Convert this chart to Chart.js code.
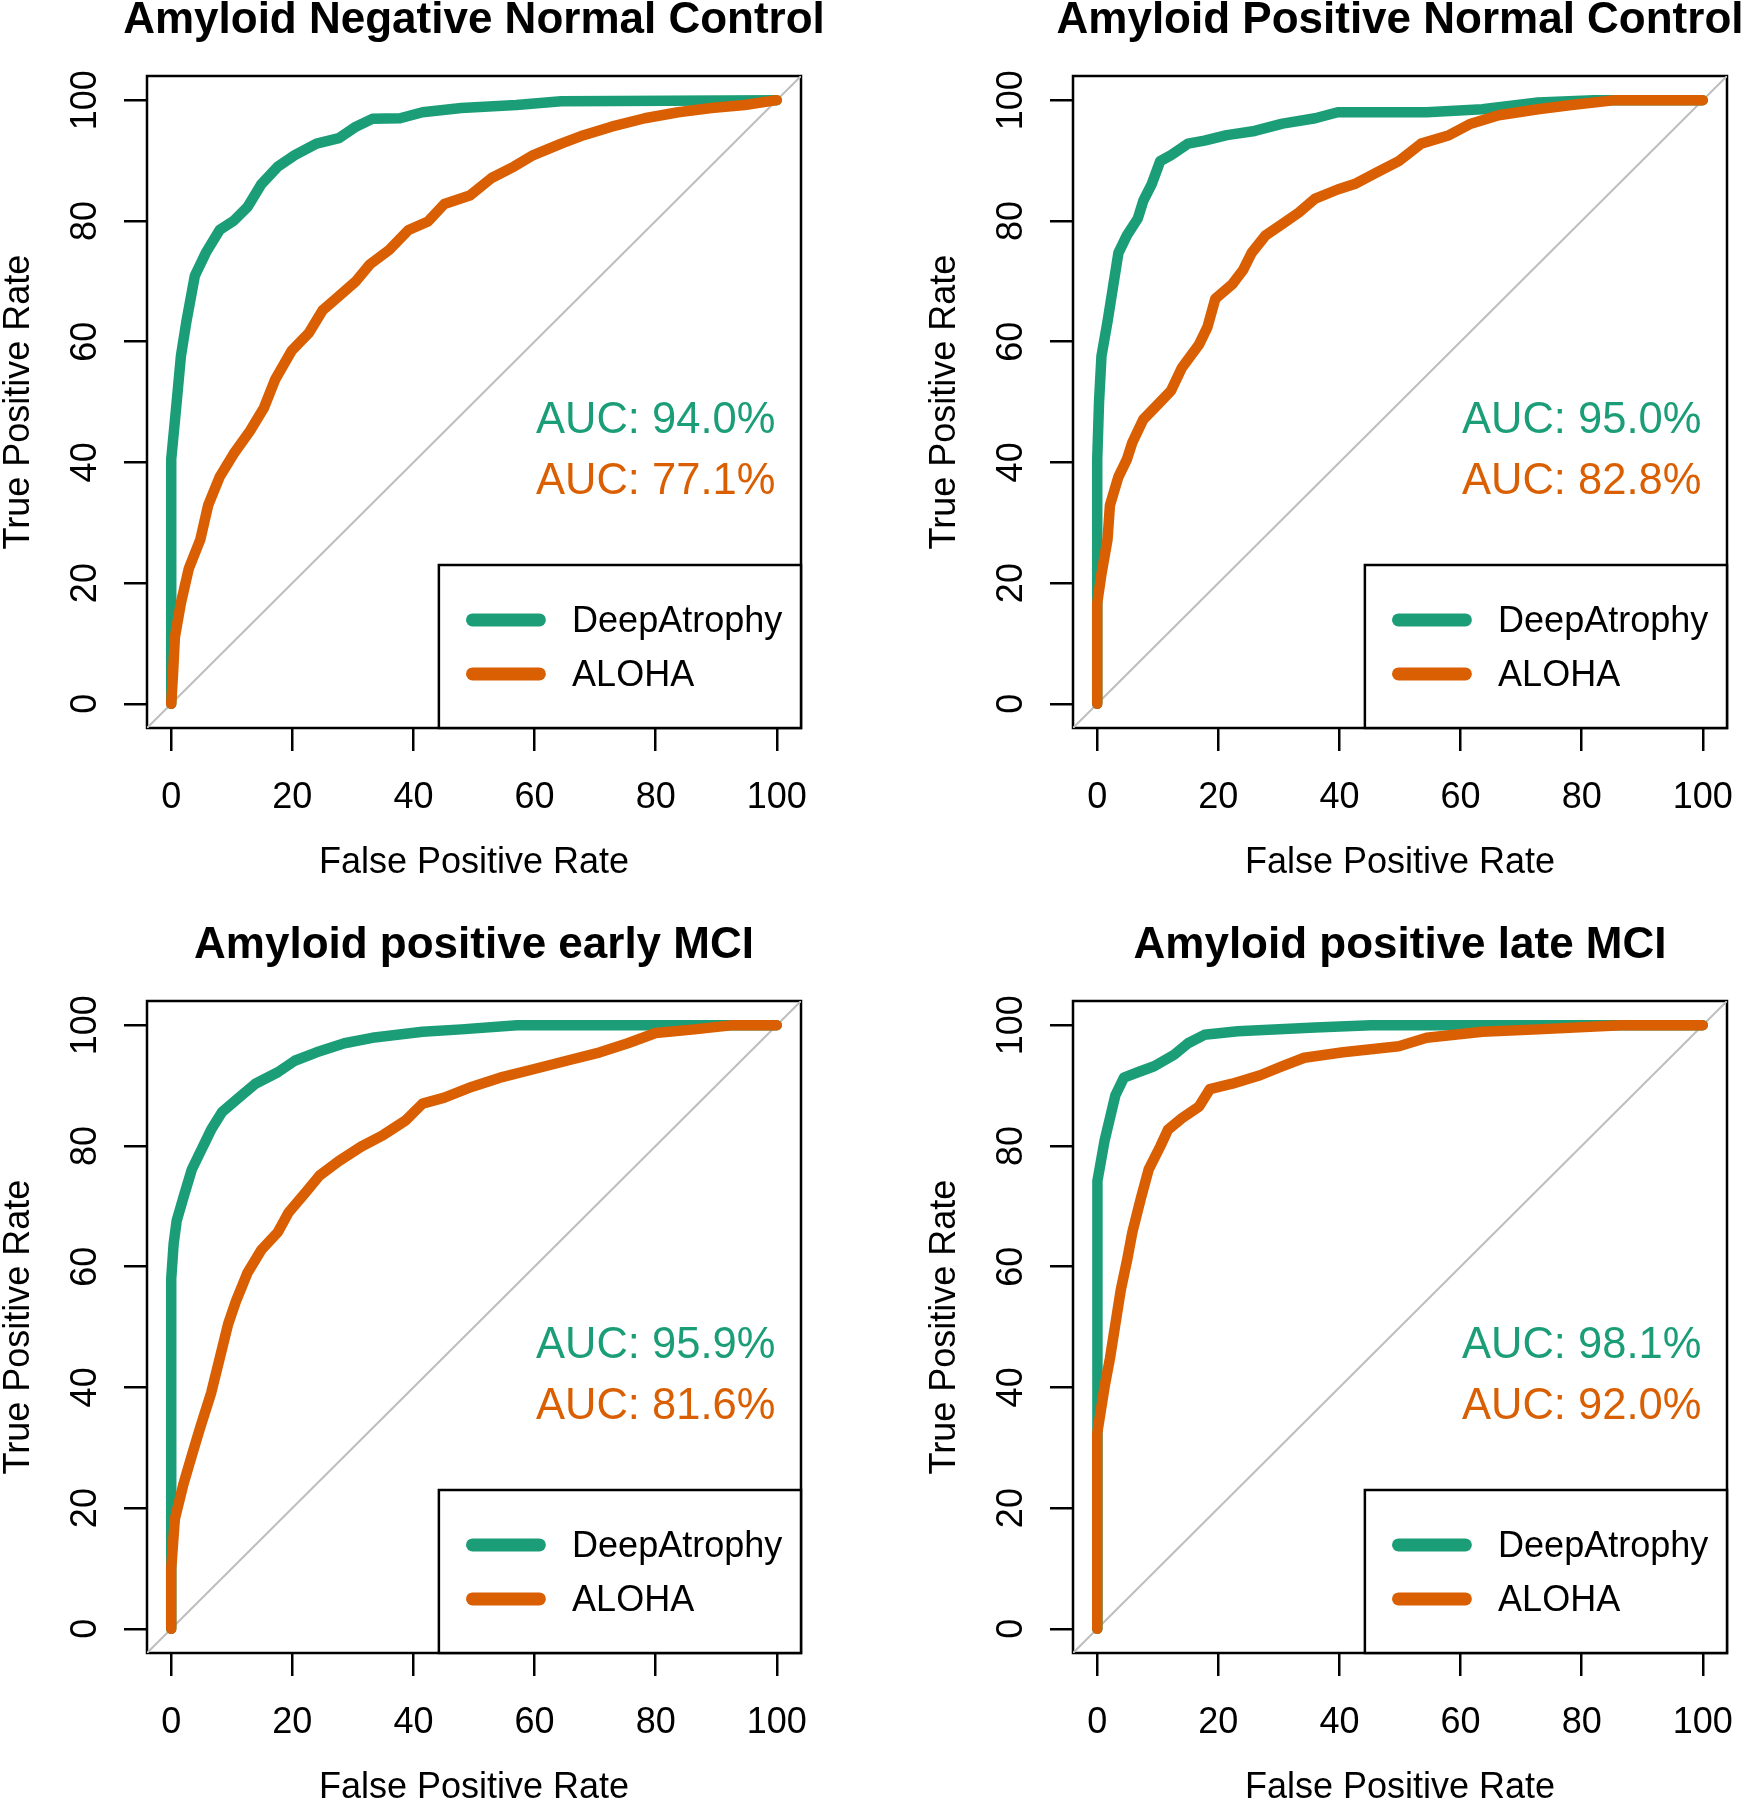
<!DOCTYPE html>
<html>
<head>
<meta charset="utf-8">
<script src="https://cdn.jsdelivr.net/npm/chart.js@4.4.1/dist/chart.umd.min.js"></script>
<style>
html,body{margin:0;padding:0;background:#fff;}
body{width:1741px;height:1800px;position:relative;overflow:hidden;}
canvas{position:absolute;}
</style>
</head>
<body>
<canvas id="c0" width="988" height="925"></canvas>
<canvas id="c1" width="988" height="925"></canvas>
<canvas id="c2" width="988" height="925"></canvas>
<canvas id="c3" width="988" height="925"></canvas>
<script>
// ---------------- data ----------------
const panelTitles = [
  'Amyloid Negative Normal Control',
  'Amyloid Positive Normal Control',
  'Amyloid positive early MCI',
  'Amyloid positive late MCI'
];
const seriesNames = ['DeepAtrophy', 'ALOHA'];
const xTickValues = [0, 20, 40, 60, 80, 100];
const yTickValues = [0, 20, 40, 60, 80, 100];
const aucDeep  = [94.0, 95.0, 95.9, 98.1];
const aucAloha = [77.1, 82.8, 81.6, 92.0];
const diagX = [-4, 104];
const diagY = [-4, 104];

// Panel 1: Amyloid Negative Normal Control
const p1DeepFPR  = [0, 0, 0, 0.9, 1.6, 2.5, 3.9, 5.7, 8, 10.3, 12.6, 14.9, 17.6, 20.4, 24, 27.7, 30.5, 33.2, 37.8, 41.5, 47.9, 57, 64.4, 100];
const p1DeepTPR  = [0, 5, 40.5, 50, 57.6, 63.3, 70.9, 74.7, 78.5, 80, 82.3, 86.1, 89, 90.9, 92.8, 93.7, 95.6, 96.9, 97, 98, 98.7, 99.2, 99.8, 100];
const p1AlohaFPR = [0, 0.3, 0.6, 1.6, 2.9, 4.8, 6.1, 8, 10.3, 13, 15.3, 17.2, 19.9, 22.7, 25, 27.2, 30.5, 32.8, 36, 39.2, 42.4, 45.1, 49.3, 52.9, 56.6, 59.8, 64.4, 68.1, 72.7, 78.2, 83.7, 89.2, 94.7, 100];
const p1AlohaTPR = [0, 5, 11, 16.7, 22.4, 27.2, 32.9, 37.6, 41.4, 45.2, 49, 53.8, 58.5, 61.4, 65.2, 67.1, 70, 72.8, 75.2, 78.5, 79.9, 82.8, 84.2, 87.1, 89, 90.9, 92.8, 94.2, 95.6, 97, 98, 98.7, 99.2, 100];

// Panel 2: Amyloid Positive Normal Control
const p2DeepFPR  = [0, 0, 0, 0.3, 0.7, 1.7, 2.6, 3.5, 4.9, 6.7, 7.6, 9, 10.4, 12.2, 15, 17.7, 21.4, 26, 30.6, 36, 39.7, 54.4, 63.6, 72.8, 82, 100];
const p2DeepTPR  = [0, 17, 40.5, 50, 57.6, 63.3, 69, 74.7, 77.6, 80.4, 83.3, 86.1, 89.9, 90.9, 92.8, 93.3, 94.2, 94.9, 96.1, 97, 98, 98, 98.5, 99.6, 100, 100];
const p2AlohaFPR = [0, 0, 0.7, 1.7, 2.1, 3.5, 4.9, 5.8, 7.6, 10.4, 12.2, 14, 16.8, 18.2, 19.5, 22.3, 24.1, 25.5, 27.8, 30.6, 33.3, 36, 39.7, 42.5, 46.1, 49.8, 53.5, 58.1, 61.7, 66.3, 72.8, 78.3, 85.6, 100];
const p2AlohaTPR = [0, 16.7, 21.5, 27.2, 32.9, 37.6, 40.5, 43.3, 47.1, 50, 51.9, 55.7, 59.5, 62.4, 67.1, 69.5, 71.9, 74.7, 77.6, 79.5, 81.4, 83.7, 85.2, 86.1, 88, 89.9, 92.8, 94.2, 96.1, 97.5, 98.5, 99.2, 100, 100];

// Panel 3: Amyloid positive early MCI
const p3DeepFPR  = [0, 0, 0.4, 0.9, 2, 3.4, 4.8, 6.6, 8.4, 11.2, 13.9, 17.6, 20.4, 24, 28.6, 33.2, 41.5, 47.9, 57.1, 100];
const p3DeepTPR  = [0, 58, 63.8, 67.6, 71.4, 76.1, 79, 82.7, 85.6, 88, 90.3, 92.2, 94.1, 95.5, 97, 97.9, 98.9, 99.3, 100, 100];
const p3AlohaFPR = [0, 0, 0.6, 2, 3.4, 4.8, 6.6, 8, 9.4, 10.7, 12.6, 14.9, 17.6, 19.4, 22.2, 24.5, 27.7, 31.4, 35, 38.7, 41.5, 45.1, 49.7, 54.3, 59.8, 65.3, 70.8, 75.4, 80, 86.4, 92.8, 100];
const p3AlohaTPR = [0, 10, 18.2, 23.9, 28.7, 33.4, 39.1, 44.8, 50.5, 54.3, 59, 62.8, 65.7, 69, 72.3, 75.1, 77.5, 79.9, 81.8, 84.2, 87, 88, 89.8, 91.3, 92.7, 94.1, 95.5, 97, 98.7, 99.3, 100, 100];

// Panel 4: Amyloid positive late MCI
const p4DeepFPR  = [0, 0, 0, 0.1, 1.2, 2.1, 3, 4.4, 6.7, 9.4, 12.7, 15, 17.7, 23.2, 36, 45.2, 100];
const p4DeepTPR  = [0, 14, 63.8, 74.2, 80.8, 84.6, 88.4, 91.3, 92.2, 93.2, 95.1, 97, 98.4, 99, 99.6, 100, 100];
const p4AlohaFPR = [0, 0, 1.2, 2.1, 3, 3.9, 4.9, 5.8, 7.2, 8.5, 10.4, 11.7, 14, 16.8, 18.6, 22.3, 26.9, 30.6, 34.2, 40.6, 49.8, 54.4, 63.6, 72.8, 86.5, 100];
const p4AlohaTPR = [0, 32.4, 40, 44.8, 50.5, 56.2, 60.9, 65.7, 71.3, 76.1, 79.9, 82.7, 84.6, 86.5, 89.4, 90.3, 91.7, 93.2, 94.6, 95.5, 96.5, 97.9, 98.9, 99.3, 100, 100];

const panels = [
  [p1DeepFPR, p1DeepTPR, p1AlohaFPR, p1AlohaTPR],
  [p2DeepFPR, p2DeepTPR, p2AlohaFPR, p2AlohaTPR],
  [p3DeepFPR, p3DeepTPR, p3AlohaFPR, p3AlohaTPR],
  [p4DeepFPR, p4DeepTPR, p4AlohaFPR, p4AlohaTPR]
];

// ---------------- styling ----------------
const FONT = '"Liberation Sans", Arial, Helvetica, sans-serif';
const GREEN = '#1B9E77';
const ORANGE = '#D95F02';
Chart.defaults.font.family = FONT;
Chart.defaults.color = '#000';

const toPts = (xs, ys) => xs.map((x, i) => ({x: x, y: ys[i]}));

const boxPlugin = {
  id: 'rBox',
  beforeDatasetsDraw(chart) {
    const {ctx, chartArea: a} = chart;
    ctx.save();
    ctx.strokeStyle = '#000';
    ctx.lineWidth = 2.5;
    ctx.strokeRect(a.left, a.top, a.right - a.left, a.bottom - a.top);
    ctx.restore();
  }
};

const aucPlugin = {
  id: 'aucText',
  afterDatasetsDraw(chart, args, opts) {
    const {ctx, scales: {x, y}} = chart;
    ctx.save();
    ctx.font = '43.5px ' + FONT;
    ctx.textAlign = 'center';
    ctx.textBaseline = 'middle';
    opts.lines.forEach(l => {
      ctx.fillStyle = l.color;
      ctx.fillText(l.text, x.getPixelForValue(opts.x), y.getPixelForValue(l.y));
    });
    ctx.restore();
  }
};

const legendPlugin = {
  id: 'rLegend',
  afterDatasetsDraw(chart, args, opts) {
    const {ctx, chartArea: a, scales: {x, y}} = chart;
    const left = x.getPixelForValue(opts.boxLeft);
    const top = y.getPixelForValue(opts.boxTop);
    ctx.save();
    ctx.fillStyle = '#fff';
    ctx.fillRect(left, top, a.right - left, a.bottom - top);
    ctx.strokeStyle = '#000';
    ctx.lineWidth = 2.5;
    ctx.strokeRect(left, top, a.right - left, a.bottom - top);
    chart.data.datasets.slice(0, 2).forEach((ds, i) => {
      const yy = y.getPixelForValue(opts.rowY[i]);
      ctx.strokeStyle = ds.borderColor;
      ctx.lineWidth = 13;
      ctx.lineCap = 'round';
      ctx.beginPath();
      ctx.moveTo(x.getPixelForValue(opts.lineX0), yy);
      ctx.lineTo(x.getPixelForValue(opts.lineX1), yy);
      ctx.stroke();
      ctx.fillStyle = '#000';
      ctx.font = '36px ' + FONT;
      ctx.textAlign = 'left';
      ctx.textBaseline = 'middle';
      ctx.fillText(ds.label, x.getPixelForValue(opts.textX), yy + opts.textDy);
    });
    ctx.restore();
  }
};

function zeroPad(s) {
  s.paddingLeft = 0; s.paddingRight = 0; s.paddingTop = 0; s.paddingBottom = 0;
}

function makeChart(idx) {
  const [dx, dy, ax, ay] = panels[idx];
  const canvas = document.getElementById('c' + idx);
  const col = idx % 2, row = Math.floor(idx / 2);
  canvas.style.left = (col * 926 - 20) + 'px';
  canvas.style.top = (row * 925 - 40) + 'px';
  return new Chart(canvas, {
    type: 'scatter',
    data: {
      datasets: [
        {label: seriesNames[0], data: toPts(dx, dy), showLine: true, borderColor: GREEN, backgroundColor: GREEN,
         borderWidth: 10.5, pointRadius: 0, borderCapStyle: 'round', borderJoinStyle: 'round', tension: 0, order: 1},
        {label: seriesNames[1], data: toPts(ax, ay), showLine: true, borderColor: ORANGE, backgroundColor: ORANGE,
         borderWidth: 10.5, pointRadius: 0, borderCapStyle: 'round', borderJoinStyle: 'round', tension: 0, order: 0},
        {label: 'chance', data: toPts(diagX, diagY), showLine: true, borderColor: '#BEBEBE',
         borderWidth: 2, pointRadius: 0, order: 2}
      ]
    },
    options: {
      responsive: false,
      animation: false,
      devicePixelRatio: 1,
      events: [],
      layout: {padding: {left: 0, right: 0, top: 0, bottom: 0}},
      plugins: {
        legend: {display: false},
        tooltip: {enabled: false},
        title: {
          display: true, text: panelTitles[idx], fullSize: true, color: '#000',
          font: {size: 44, weight: 'bold', family: FONT},
          padding: {top: 34.0, bottom: 29.2}
        },
        aucText: {
          x: 80,
          lines: [
            {text: 'AUC: ' + aucDeep[idx].toFixed(1) + '%', y: 46.8, color: GREEN},
            {text: 'AUC: ' + aucAloha[idx].toFixed(1) + '%', y: 36.7, color: ORANGE}
          ]
        },
        rLegend: {boxLeft: 44.2, boxTop: 23, lineX0: 49.75, lineX1: 60.8, textX: 66.2, rowY: [13.9, 4.95], textDy: 2.3}
      },
      scales: {
        x: {
          type: 'linear', position: 'bottom', min: -4, max: 104,
          afterBuildTicks: s => { s.ticks = xTickValues.map(v => ({value: v})); },
          afterFit: s => { s.height = 157; zeroPad(s); },
          grid: {drawOnChartArea: false, drawTicks: true, tickLength: 23, color: '#000', lineWidth: 2.5},
          border: {display: false},
          ticks: {font: {size: 36, family: FONT}, color: '#000', padding: 25.5, minRotation: 0, maxRotation: 0, autoSkip: false},
          title: {display: true, text: 'False Positive Rate', color: '#000', font: {size: 36, family: FONT}, padding: {top: 0, bottom: 0.1}}
        },
        y: {
          type: 'linear', position: 'left', min: -4, max: 104,
          afterBuildTicks: s => { s.ticks = yTickValues.map(v => ({value: v})); },
          afterFit: s => { s.width = 167; zeroPad(s); },
          grid: {drawOnChartArea: false, drawTicks: true, tickLength: 23, color: '#000', lineWidth: 2.5},
          border: {display: false},
          ticks: {font: {size: 36, family: FONT}, color: '#000', padding: 7.7, minRotation: 90, maxRotation: 90, crossAlign: 'center', autoSkip: false},
          title: {display: true, text: 'True Positive Rate', color: '#000', font: {size: 36, family: FONT}, padding: {top: 17.7, bottom: 0}}
        },
        // empty right-hand spacer so the full-width title is centred over the plot box
        ySpacer: {
          type: 'linear', position: 'right', display: true,
          afterFit: s => { s.width = 167; zeroPad(s); },
          grid: {display: false, drawTicks: false},
          border: {display: false},
          ticks: {display: false},
          title: {display: false}
        }
      }
    },
    plugins: [boxPlugin, aucPlugin, legendPlugin]
  });
}

[0, 1, 2, 3].forEach(makeChart);
</script>
</body>
</html>
